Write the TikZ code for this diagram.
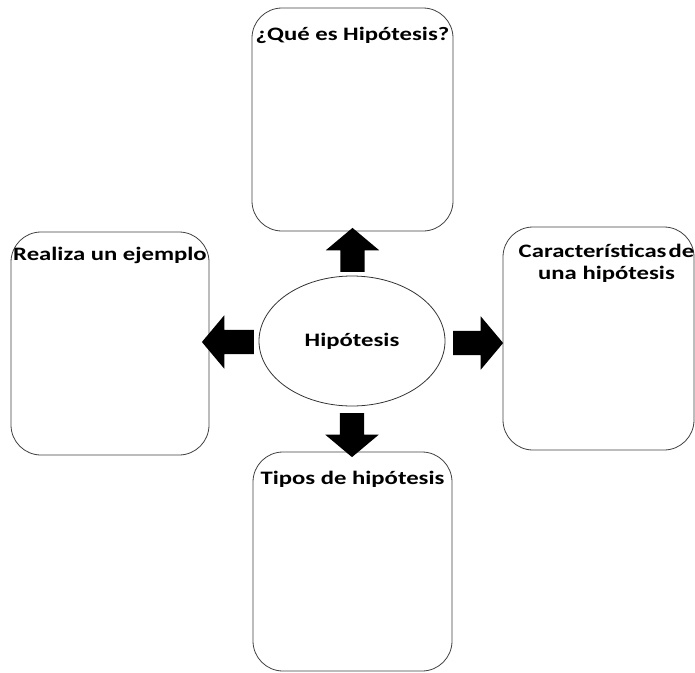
\documentclass[tikz,border=0pt]{standalone}
\usepackage{fontspec}
\setmainfont{Carlito}[FakeStretch=1.3]
\usetikzlibrary{shapes.arrows,shapes.geometric}

\begin{document}
\begin{tikzpicture}[x=1pt,y=-1pt]
\tikzstyle{every node}=[font=\bfseries\fontsize{19}{22}\selectfont, inner sep=0pt]
\tikzstyle{box}=[draw=black!75, line width=0.8pt, rounded corners=30pt]
\tikzstyle{blockarrow}=[single arrow, fill=black, minimum width=53pt, inner sep=12pt, single arrow head extend=14.5pt, single arrow tip angle=100]
\useasboundingbox (0,0) rectangle (695,672);

% boxes
\node[box, minimum width=201pt, minimum height=223pt,
label={[anchor=north, yshift=-19pt]north:{¿Qué es Hipótesis?}}
] (que) at (352.5,119.5) {};
\node[box, minimum width=198pt, minimum height=223pt,
label={[anchor=north, yshift=-15pt]north:{Realiza un ejemplo}}
] (ejemplo) at (110,343.5) {};
\node[box, minimum width=191pt, minimum height=223pt,
label={[anchor=north, yshift=-17pt, xshift=8pt, align=center]north:{Características\kern2pt de\\una hipótesis}}
] (caract) at (598.5,338.5) {};
\node[box, minimum width=199pt, minimum height=219pt,
label={[anchor=north, yshift=-19pt]north:{Tipos de hipótesis}}
] (tipos) at (352.5,561.5) {};

% arrows
\node[blockarrow, minimum height=44pt, rotate=90] (up) at (352.5,255) {};
\node[blockarrow, minimum height=44pt, rotate=-90] (down) at (352,430) {};
\node[blockarrow, minimum height=52pt, rotate=180] (left) at (233,342) {};
\node[blockarrow, minimum height=50pt] (right) at (473,343) {};

% center
\node[ellipse, draw=black!80, fill=white, line width=0.8pt, minimum width=186pt, minimum height=130pt] (hip) at (352,341) {Hipótesis};

\end{tikzpicture}
\end{document}
